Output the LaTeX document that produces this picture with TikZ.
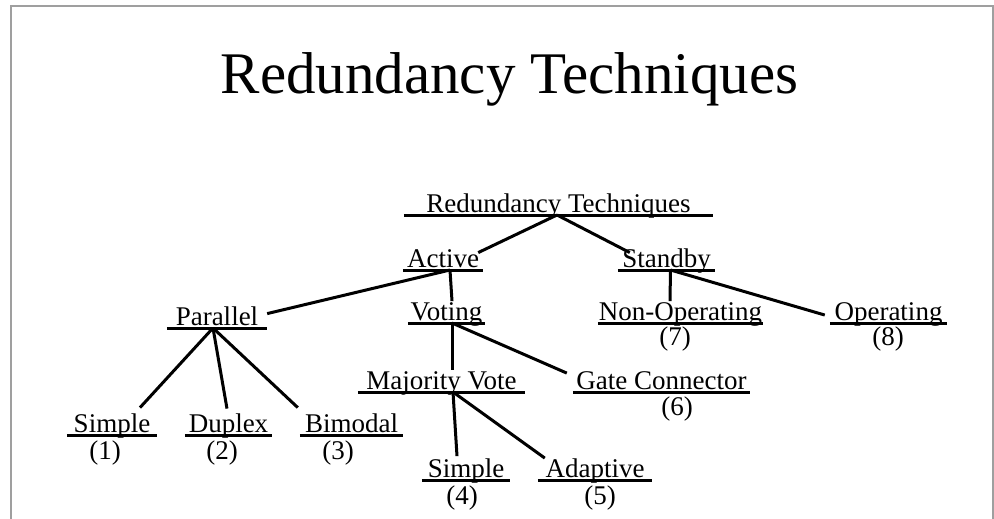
\documentclass[tikz,border=0pt]{standalone}
\usepackage{fontspec}
\setmainfont{Liberation Serif}
\usetikzlibrary{calc}
\begin{document}
\begin{tikzpicture}[x=1pt,y=-1pt,
  lab/.style={anchor=south,inner xsep=0pt,inner ysep=0pt,text height=19pt,text depth=2.5pt,
    font=\fontsize{27}{28}\selectfont},
  num/.style={anchor=base,inner sep=0pt,font=\fontsize{27}{28}\selectfont},
  uline/.style={line width=3pt},
  conn/.style={line width=3pt},
  frame/.style={draw=gray!75,line width=1.3pt}]
\useasboundingbox (0,0) rectangle (994,519);
\fill[white] (0,0) rectangle (994,519);
\coordinate (fbl) at (11,519);
\coordinate (ftl) at (11,6);
\coordinate (ftr) at (993,6);
\coordinate (fbr) at (993,519);
\draw[frame] (fbl) -- (ftl) -- (ftr) -- (fbr);
\node[anchor=base,inner sep=0pt,font=\fontsize{59}{60}\selectfont] (title) at (509.5,93) {Redundancy Techniques};
% label nodes
\node[lab,minimum width=309pt] (root) at (558.5,215) {Redundancy Techniques};
\node[lab,minimum width=80pt] (active) at (443,270) {Active};
\node[lab,minimum width=97pt] (standby) at (666.5,270) {Standby};
\node[lab,minimum width=100pt] (parallel) at (217,328) {Parallel};
\node[lab,minimum width=77pt] (voting) at (446.5,323) {Voting};
\node[lab,minimum width=165pt] (nonop) at (680.5,323) {Non-Operating};
\node[lab,minimum width=117pt] (op) at (888.5,323) {Operating};
\node[lab,minimum width=90pt] (simpleA) at (112,435) {Simple};
\node[lab,minimum width=87pt] (duplex) at (228.5,435) {Duplex};
\node[lab,minimum width=103pt] (bimodal) at (351.5,435) {Bimodal};
\node[lab,minimum width=167pt] (majority) at (441.5,392) {Majority Vote};
\node[lab,minimum width=177pt] (gate) at (661.5,392) {Gate Connector};
\node[lab,minimum width=88pt] (simpleB) at (466,480) {Simple};
\node[lab,minimum width=114pt] (adaptive) at (595,480) {Adaptive};
% underlines
\foreach \n in {root,active,standby,parallel,voting,nonop,op,simpleA,duplex,bimodal,majority,gate,simpleB,adaptive}
  \draw[uline] (\n.south west) -- (\n.south east);
% numbers
\node[num] (n1) at (105,459) {(1)};
\node[num] (n2) at (222,459) {(2)};
\node[num] (n3) at (338,459) {(3)};
\node[num] (n4) at (462,504) {(4)};
\node[num] (n5) at (600,504) {(5)};
\node[num] (n6) at (677,415) {(6)};
\node[num] (n7) at (675,345) {(7)};
\node[num] (n8) at (888,345) {(8)};
% connectors
\draw[conn] ([xshift=-1.5pt]root.south) -- ([xshift=-5pt,yshift=-4.5pt]active.north east);
\draw[conn] ([xshift=-1.5pt]root.south) -- ([xshift=12pt,yshift=-4.5pt]standby.north west);
\draw[conn] ([xshift=7pt]active.south) -- ([yshift=-7.5pt]parallel.north east);
\draw[conn] ([xshift=7pt]active.south) -- ([xshift=5.5pt]voting.north);
\draw[conn] ([xshift=4pt]standby.south) -- ([xshift=-10.5pt]nonop.north);
\draw[conn] ([xshift=4pt]standby.south) -- ([xshift=-5pt,yshift=-3pt]op.west);
\draw[conn] ([xshift=-4pt]parallel.south) -- ([xshift=28pt,yshift=5.5pt]simpleA.north);
\draw[conn] ([xshift=-4pt]parallel.south) -- ([xshift=-1.5pt,yshift=4.5pt]duplex.north);
\draw[conn] ([xshift=-4pt]parallel.south) -- ([xshift=-2pt,yshift=5.5pt]bimodal.north west);
\draw[conn] ([xshift=5.5pt]voting.south) -- ([xshift=10.5pt]majority.north);
\draw[conn] ([xshift=5.5pt]voting.south) -- ([xshift=-6pt,yshift=-3pt]gate.north west);
\draw[conn] ([xshift=11.5pt]majority.south) -- ([xshift=-9pt,yshift=2pt]simpleB.north);
\draw[conn] ([xshift=11.5pt]majority.south) -- ([xshift=7pt]adaptive.north west);
\end{tikzpicture}
\end{document}
